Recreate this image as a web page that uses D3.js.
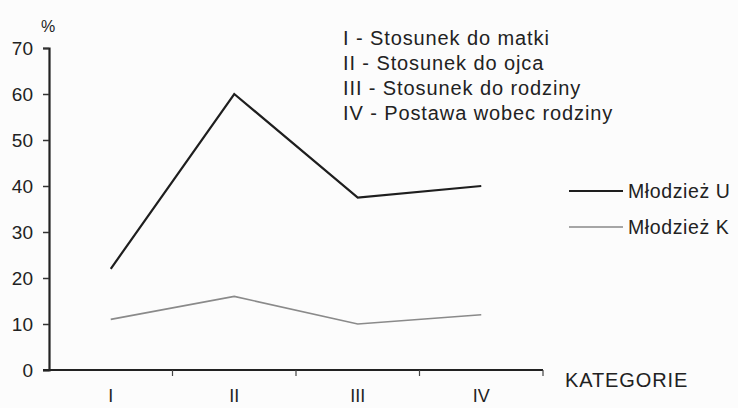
<!DOCTYPE html>
<html>
<head>
<meta charset="utf-8">
<script src="https://cdn.jsdelivr.net/npm/d3@7"></script>
<style>
  body { margin: 0; background: #fcfcfc; }
  svg { display: block; font-family: "Liberation Sans", Arial, sans-serif; }
</style>
</head>
<body>
<svg id="chart" width="738" height="408"></svg>
<script>
// categories and values
var categories = ['I', 'II', 'III', 'IV'];
var mlodziezU = [22, 60, 37.5, 40];
var mlodziezK = [11, 16, 10, 12];
var yTicks = [0, 10, 20, 30, 40, 50, 60, 70];
var categoryNames = [
  'I - Stosunek do matki',
  'II - Stosunek do ojca',
  'III - Stosunek do rodziny',
  'IV - Postawa wobec rodziny'
];
var seriesNames = ['Młodzież U', 'Młodzież K'];

var svg = d3.select('#chart');

var x = d3.scaleBand().domain(categories).range([49, 543]);
var y = d3.scaleLinear().domain([0, 70]).range([370, 48]);

// y axis
var yAxis = svg.append('g')
  .attr('transform', 'translate(49,0)')
  .call(d3.axisLeft(y).tickValues(yTicks).tickSize(6).tickPadding(10));
yAxis.select('.domain').attr('stroke', '#222').attr('stroke-width', 2.2);
yAxis.selectAll('.tick line').attr('stroke', '#333').attr('stroke-width', 1.5);
yAxis.selectAll('text')
  .attr('fill', '#222')
  .style('font-size', '19px');

// x axis, ticks on band boundaries
var xAxis = svg.append('g').attr('transform', 'translate(0,370)');
xAxis.append('line')
  .attr('x1', 43).attr('x2', 543)
  .attr('stroke', '#222').attr('stroke-width', 2.2);
xAxis.selectAll('.xt')
  .data(categories)
  .enter()
  .append('line')
  .attr('x1', (d) => x(d) + x.bandwidth())
  .attr('x2', (d) => x(d) + x.bandwidth())
  .attr('y1', 0).attr('y2', 6)
  .attr('stroke', '#444').attr('stroke-width', 1.2);
xAxis.selectAll('.xl')
  .data(categories)
  .enter()
  .append('text')
  .attr('x', (d) => x(d) + x.bandwidth() / 2)
  .attr('y', 32)
  .attr('text-anchor', 'middle')
  .attr('fill', '#222')
  .style('font-size', '18px')
  .text((d) => d);

svg.append('text')
  .attr('x', 565).attr('y', 387)
  .attr('fill', '#222')
  .style('font-size', '20px')
  .style('letter-spacing', '0.9px')
  .text('KATEGORIE');

svg.append('text')
  .attr('x', 41).attr('y', 32)
  .attr('fill', '#222')
  .style('font-size', '16px')
  .text('%');

// lines
var line = d3.line()
  .x((d, i) => x(categories[i]) + x.bandwidth() / 2)
  .y((d) => y(d));

svg.append('path')
  .attr('d', line(mlodziezK))
  .attr('fill', 'none')
  .attr('stroke', '#8a8a8a')
  .attr('stroke-width', 1.6);

svg.append('path')
  .attr('d', line(mlodziezU))
  .attr('fill', 'none')
  .attr('stroke', '#1e1e1e')
  .attr('stroke-width', 2.2);

// category names
svg.selectAll('.cn')
  .data(categoryNames)
  .enter()
  .append('text')
  .attr('x', 343)
  .attr('y', (d, i) => 45 + i * 25)
  .attr('fill', '#222')
  .style('font-size', '20px')
  .style('letter-spacing', '0.9px')
  .text((d) => d);

// legend
var legendColors = ['#1e1e1e', '#8a8a8a'];
var legend = svg.selectAll('.lg')
  .data(seriesNames)
  .enter()
  .append('g')
  .attr('transform', (d, i) => 'translate(0,' + (191 + i * 36) + ')');
legend.append('line')
  .attr('x1', 569).attr('x2', 623)
  .attr('stroke', (d, i) => legendColors[i])
  .attr('stroke-width', (d, i) => i == 0 ? 2.2 : 1.6);
legend.append('text')
  .attr('x', 628).attr('y', 7)
  .attr('fill', '#222')
  .style('font-size', '19.5px')
  .style('letter-spacing', '0.6px')
  .text((d) => d);
</script>
</body>
</html>
